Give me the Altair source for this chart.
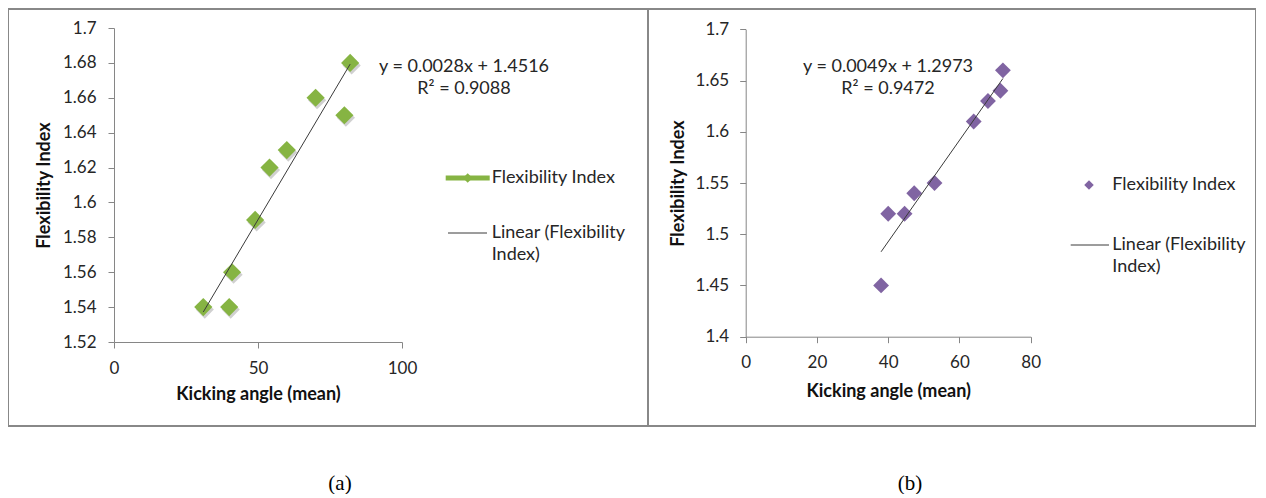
import altair as alt
import pandas as pd

# ---- data ----
a_angle = [31, 40, 41, 49, 54, 60, 70, 80, 82]
a_flex = [1.54, 1.54, 1.56, 1.59, 1.62, 1.63, 1.66, 1.65, 1.68]
b_angle = [38, 40, 44.6, 47.3, 53, 64, 68, 71.5, 72.2]
b_flex = [1.45, 1.52, 1.52, 1.54, 1.55, 1.61, 1.63, 1.64, 1.66]

a_xticks = [0, 50, 100]
a_yticks = [1.52, 1.54, 1.56, 1.58, 1.6, 1.62, 1.64, 1.66, 1.68, 1.7]
b_xticks = [0, 20, 40, 60, 80]
b_yticks = [1.4, 1.45, 1.5, 1.55, 1.6, 1.65, 1.7]

a_eq = ["y = 0.0028x + 1.4516", "R² = 0.9088"]
b_eq = ["y = 0.0049x + 1.2973", "R² = 0.9472"]
series_name = "Flexibility Index"
trend_name = ["Linear (Flexibility", "Index)"]
x_title = "Kicking angle (mean)"
y_title = "Flexibility Index"
captions = ["(a)", "(b)"]

FONT = "Lato"
GREEN = "#86B443"
PURPLE = "#8064A2"
TREND = "#3a3a3a"
TXT = "#262626"
W, H = 1248, 417
PANEL2 = 640  # x where the second panel starts


def panel(tag, xs, ys, xdom, xrng, xticks, ydom, yrng, yticks, color, msize,
          green_style, lab_pad_y, tpad_y, lab_pad_x, tpad_x):
    fx, fy = tag + "x", tag + "y"
    df = pd.DataFrame({fx: xs, fy: ys})
    xenc = alt.X(f"{fx}:Q",
                 scale=alt.Scale(domain=xdom, range=xrng, nice=False, zero=False),
                 axis=alt.Axis(values=xticks, title=x_title, orient="bottom",
                               offset=-(H - yrng[0]), grid=False, labelFlush=False,
                               labelPadding=lab_pad_x, titlePadding=tpad_x))
    yenc = alt.Y(f"{fy}:Q",
                 scale=alt.Scale(domain=ydom, range=yrng, nice=False, zero=False),
                 axis=alt.Axis(values=yticks, title=y_title, format=".2~f", orient="left",
                               offset=-xrng[0], grid=False, labelFlush=False,
                               labelPadding=lab_pad_y, titlePadding=tpad_y))
    base = alt.Chart(df)
    layers = []
    if green_style:
        layers.append(base.mark_point(shape="diamond", filled=True, size=msize,
                                      color="#777777", opacity=0.35,
                                      xOffset=1.5, yOffset=2.5).encode(x=xenc, y=yenc))
    layers.append(base.mark_point(shape="diamond", filled=True, size=msize,
                                  color=color, opacity=1).encode(x=xenc, y=yenc))
    layers.append(base.transform_regression(fx, fy).mark_line(
        color=TREND, strokeWidth=1).encode(x=xenc, y=yenc))
    return alt.layer(*layers)


def decorations(eq, eqx, leg, caption, capx, color, green_style):
    one = alt.Chart(pd.DataFrame({"d": [0]}))
    out = []
    for t, yy in zip(eq, [58, 80]):
        out.append(one.mark_text(font=FONT, fontSize=18, color=TXT, align="center",
                                 baseline="middle", text=t).encode(
            x=alt.value(eqx), y=alt.value(yy)))
    lx0, lx1, ly, tx, rx0, rx1, ly2 = leg
    if green_style:
        out.append(one.mark_rule(color=color, strokeWidth=5).encode(
            x=alt.value(lx0), x2=alt.value(lx1), y=alt.value(ly)))
        dx = (lx0 + lx1) / 2
    else:
        dx = lx1
    out.append(one.mark_point(shape="diamond", filled=True, size=90, color=color,
                              opacity=1).encode(x=alt.value(dx), y=alt.value(ly)))
    out.append(one.mark_text(font=FONT, fontSize=18, color=TXT, align="left",
                             baseline="middle", text=series_name).encode(
        x=alt.value(tx), y=alt.value(ly)))
    out.append(one.mark_rule(color=TREND, strokeWidth=1).encode(
        x=alt.value(rx0), x2=alt.value(rx1), y=alt.value(ly2)))
    for t, yy in zip(trend_name, [ly2, ly2 + 22]):
        out.append(one.mark_text(font=FONT, fontSize=18, color=TXT, align="left",
                                 baseline="middle", text=t).encode(
            x=alt.value(tx), y=alt.value(yy)))
    out.append(one.mark_text(font="Liberation Serif", fontSize=21, color="black",
                             align="center", baseline="middle", text=caption).encode(
        x=alt.value(capx), y=alt.value(475)))
    return out


left = panel("a", a_angle, a_flex, [0, 100], [106, 394], a_xticks, [1.52, 1.7], [333, 19],
             a_yticks, GREEN, 330, True, 12, 9, 12, 9)
right = panel("b", b_angle, b_flex, [0, 80], [737.7, 1022.7], b_xticks,
              [1.4, 1.7], [327.7, 20.3], b_yticks, PURPLE, 250, False, 11, 8, 12, 12)

deco = []
deco += decorations(a_eq, 456, (437.7, 481.7, 169, 483.7, 440, 479, 224),
                    captions[0], 332, GREEN, True)
deco += decorations(b_eq, 880, (None, 1081, 176, 1104.3, 1062.7, 1101, 236),
                    captions[1], 902, PURPLE, False)

divider = alt.Chart(pd.DataFrame({"d": [0]})).mark_rule(color="#888888", strokeWidth=2).encode(
    x=alt.value(PANEL2), y=alt.value(0), y2=alt.value(H))

chart = alt.layer(left, right, divider, *deco).resolve_scale(
    x="independent", y="independent"
).resolve_axis(x="independent", y="independent").properties(
    width=W, height=H, padding=0
).configure_view(
    stroke="#888888", strokeWidth=2
).configure_axis(
    domainColor="#868686", tickColor="#868686", tickSize=6, labelFont=FONT,
    labelFontSize=17, labelColor=TXT, titleFont=FONT, titleFontSize=18,
    titleFontWeight="bold", titleColor="#111111"
)

chart.save("out.html", embed_options={"renderer": "svg", "actions": False})
